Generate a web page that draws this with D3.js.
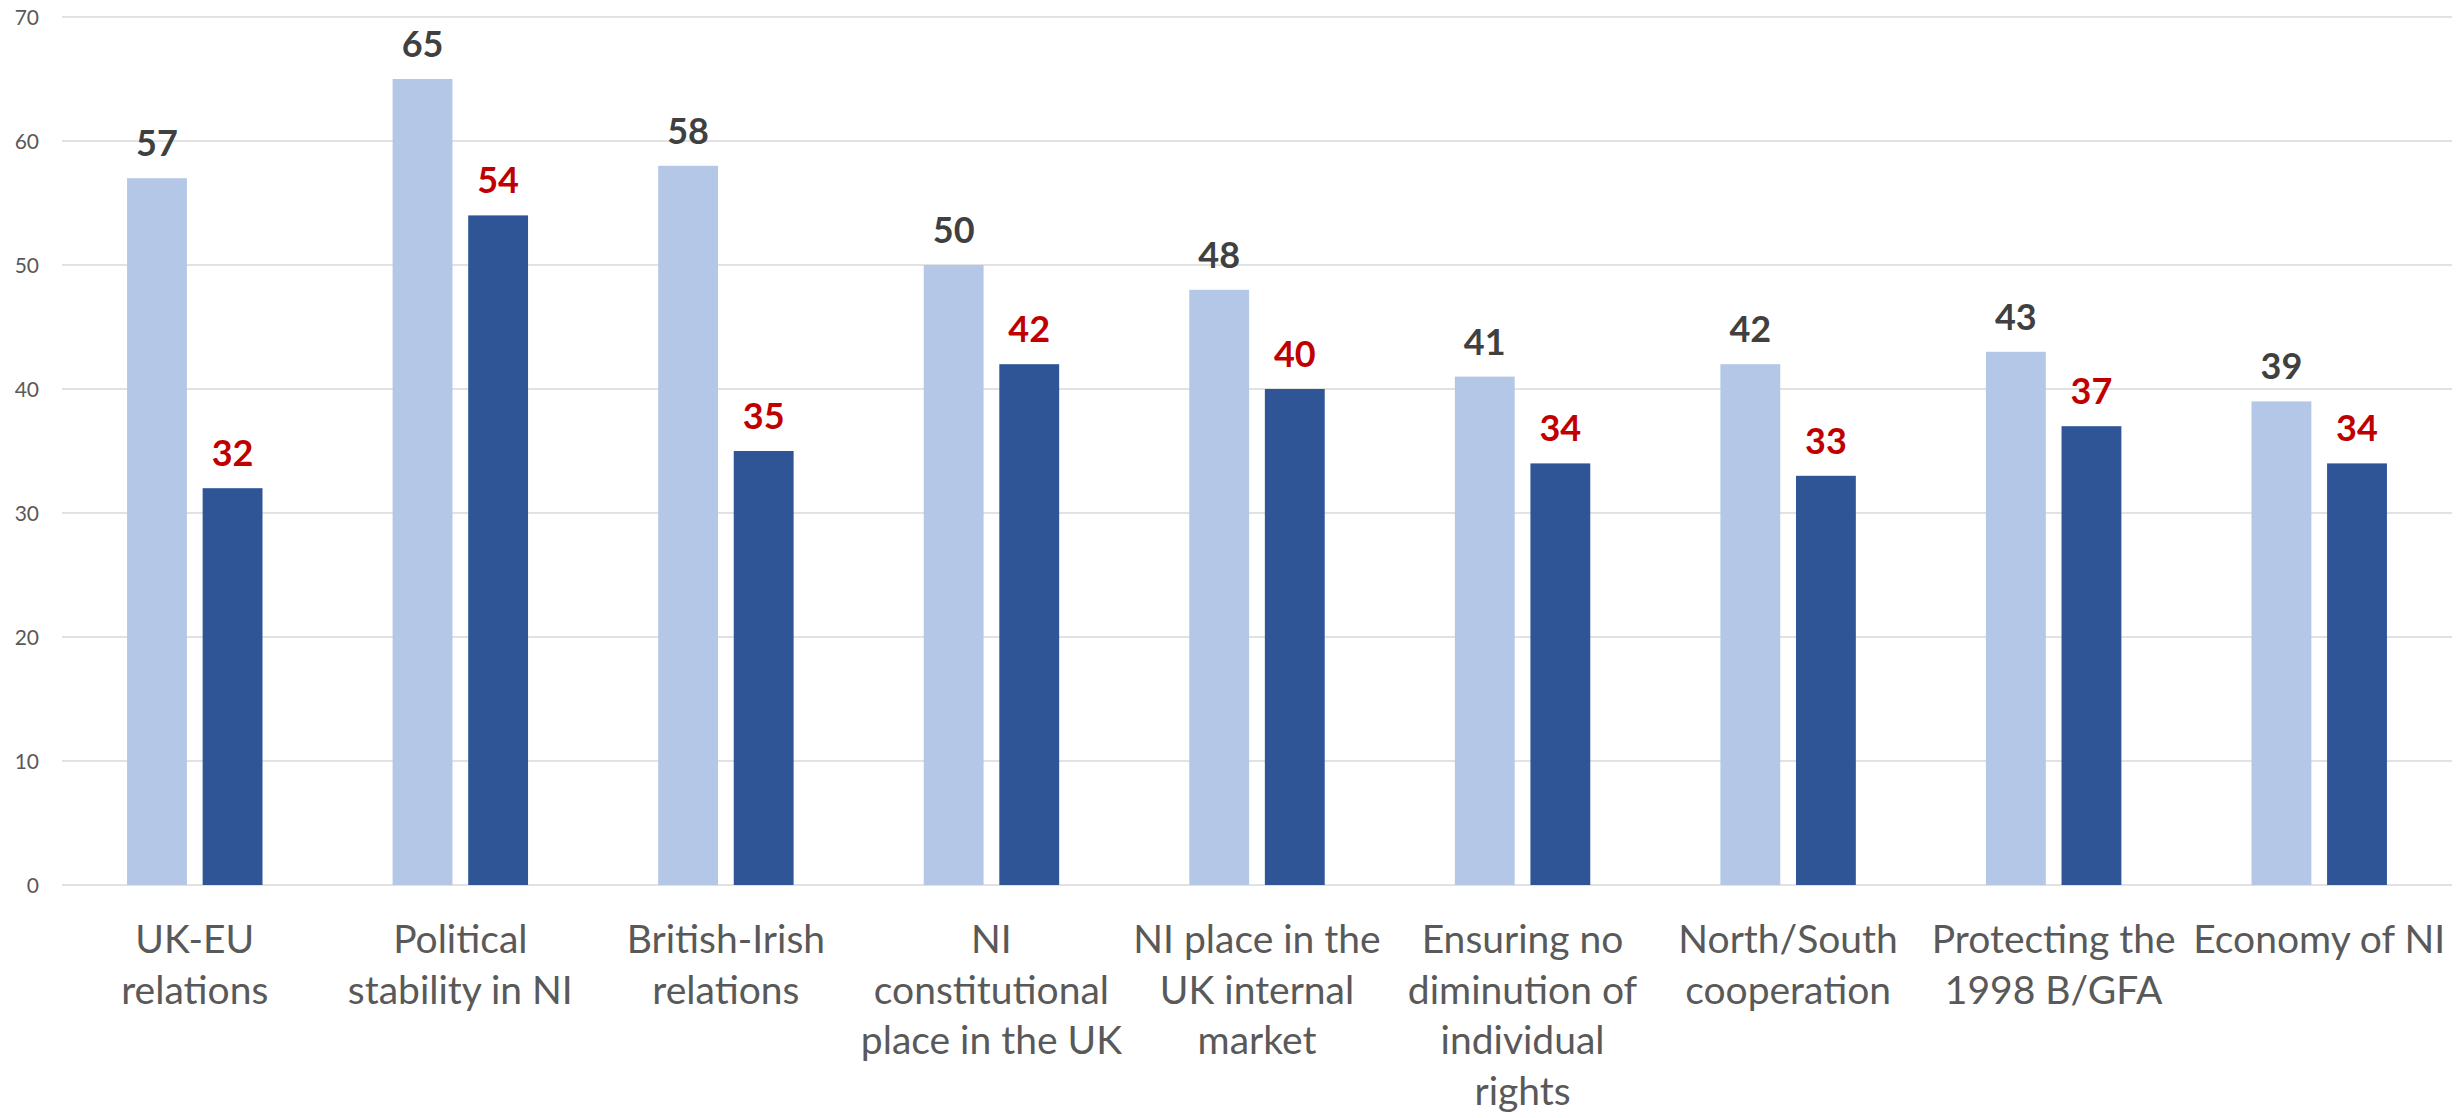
<!DOCTYPE html>
<html>
<head>
<meta charset="utf-8">
<script src="https://cdn.jsdelivr.net/npm/d3@7"></script>
<style>
  html, body { margin: 0; padding: 0; background: #ffffff; }
  svg { display: block; }
</style>
</head>
<body>
<svg id="chart" width="2464" height="1118"></svg>
<script>
const categories = [
  "UK-EU\nrelations",
  "Political\nstability in NI",
  "British-Irish\nrelations",
  "NI\nconstitutional\nplace in the UK",
  "NI place in the\nUK internal\nmarket",
  "Ensuring no\ndiminution of\nindividual\nrights",
  "North/South\ncooperation",
  "Protecting the\n1998 B/GFA",
  "Economy of NI"
];
const seriesKeys = ["first", "second"];
const firstValues = [57, 65, 58, 50, 48, 41, 42, 43, 39];
const secondValues = [32, 54, 35, 42, 40, 34, 33, 37, 34];
const yTicks = [0, 10, 20, 30, 40, 50, 60, 70];

const barColors = { first: "#B4C7E7", second: "#2F5597" };
const labelColors = { first: "#404040", second: "#C00000" };
const FONT = "Lato, 'Open Sans', sans-serif";

const svg = d3.select("#chart");
const plot = { left: 62, right: 2452, top: 17, bottom: 885 };

const x0 = d3.scaleBand()
  .domain(categories)
  .range([plot.left, plot.right])
  .paddingInner(0.49)
  .paddingOuter(0.245);

const x1 = d3.scaleBand()
  .domain(seriesKeys)
  .range([0, x0.bandwidth()])
  .paddingInner(0.208);

const y = d3.scaleLinear()
  .domain([0, 70])
  .range([plot.bottom, plot.top]);

// gridlines
svg.append("g")
  .selectAll("line")
  .data(yTicks)
  .join("line")
  .attr("x1", plot.left)
  .attr("x2", plot.right)
  .attr("y1", d => y(d))
  .attr("y2", d => y(d))
  .attr("stroke", "#D9D9D9")
  .attr("stroke-width", 1.5);

// y axis labels
const yAxis = d3.axisLeft(y).tickValues(yTicks).tickSize(0).tickPadding(0);
const yg = svg.append("g")
  .attr("transform", `translate(${plot.left - 23},0)`)
  .call(yAxis);
yg.select(".domain").remove();
yg.selectAll("text")
  .attr("font-family", FONT)
  .attr("font-size", 21)
  .attr("fill", "#595959")
  .attr("dy", "0.35em");

const rows = categories.map((c, i) => ({
  cat: c,
  values: [
    { key: "first", value: firstValues[i] },
    { key: "second", value: secondValues[i] }
  ]
}));

const groups = svg.append("g")
  .selectAll("g")
  .data(rows)
  .join("g")
  .attr("transform", d => `translate(${x0(d.cat)},0)`);

groups.selectAll("rect")
  .data(d => d.values)
  .join("rect")
  .attr("x", d => x1(d.key))
  .attr("width", x1.bandwidth())
  .attr("y", d => y(d.value))
  .attr("height", d => y(0) - y(d.value))
  .attr("fill", d => barColors[d.key]);

groups.selectAll("text.val")
  .data(d => d.values)
  .join("text")
  .attr("class", "val")
  .attr("x", d => x1(d.key) + x1.bandwidth() / 2)
  .attr("y", d => y(d.value) - 22)
  .attr("text-anchor", "middle")
  .attr("font-family", FONT)
  .attr("font-weight", "bold")
  .attr("font-size", 36)
  .attr("fill", d => labelColors[d.key])
  .text(d => d.value);

// category labels
const catG = svg.append("g");
catG.selectAll("text")
  .data(categories)
  .join("text")
  .attr("text-anchor", "middle")
  .attr("font-family", FONT)
  .attr("font-size", 39)
  .attr("fill", "#595959")
  .attr("x", d => x0(d) + x0.bandwidth() / 2)
  .attr("y", 953)
  .each(function(d) {
    const t = d3.select(this);
    const cx = x0(d) + x0.bandwidth() / 2;
    d.split("\n").forEach((line, i) => {
      t.append("tspan")
        .attr("x", cx)
        .attr("y", 953 + i * 50.5)
        .text(line);
    });
  });
</script>
</body>
</html>
